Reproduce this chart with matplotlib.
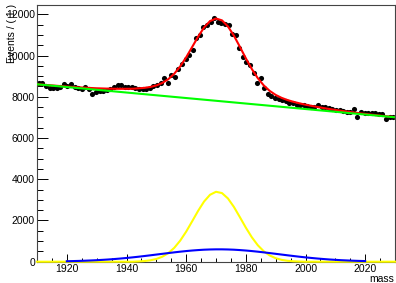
import matplotlib
matplotlib.use("Agg")
import matplotlib.pyplot as plt
from matplotlib.ticker import MultipleLocator

plt.rcParams['font.family'] = ['Liberation Sans', 'DejaVu Sans']

# binned data, 100 bins of width 1.2 from 1910 to 2030
bin_lo = 1910.0
bin_w = 1.2
counts = [8650, 8650, 8520, 8410, 8410, 8440, 8490, 8620, 8520, 8600,
          8490, 8410, 8370, 8490, 8370, 8120, 8230, 8290, 8280, 8325,
          8360, 8490, 8570, 8570, 8490, 8450, 8490, 8420, 8390, 8375,
          8380, 8410, 8510, 8570, 8680, 8890, 8680, 9055, 8970, 9330,
          9590, 9815, 10025, 10265, 10835, 10995, 11400, 11480, 11640, 11805,
          11640, 11560, 11525, 11480, 11045, 10995, 10350, 9940, 9700, 9540,
          9135, 8650, 8890, 8410, 8150, 8055, 7925, 7875, 7845, 7775,
          7715, 7680, 7605, 7595, 7595, 7555, 7515, 7515, 7600, 7515,
          7485, 7435, 7405, 7380, 7360, 7290, 7275, 7260, 7430, 7010,
          7270, 7210, 7200, 7190, 7190, 7160, 7140, 6910, 7040, 7020]
centers = [bin_lo + bin_w * (i + 0.5) for i in range(len(counts))]

curve_x = list(range(1910, 2031, 2))
total_y = [8611, 8586, 8562, 8539, 8516, 8495, 8475, 8456, 8440, 8425,
           8411, 8402, 8393, 8388, 8385, 8386, 8388, 8407, 8432, 8475,
           8548, 8668, 8851, 9115, 9473, 9912, 10410, 10914, 11359, 11670,
           11795, 11705, 11412, 10964, 10424, 9865, 9347, 8904, 8551, 8284,
           8089, 7946, 7838, 7753, 7681, 7614, 7559, 7505, 7454, 7406,
           7361, 7317, 7278, 7239, 7202, 7168, 7134, 7102, 7072, 7041,
           7012]

bkg_x = [1910, 2030]
bkg_y = [8605, 7004]

sig_x = [1910, 1942, 1944, 1946, 1948, 1950, 1952, 1954, 1956, 1958,
         1960, 1962, 1964, 1966, 1968, 1970, 1972, 1974, 1976, 1978,
         1980, 1982, 1984, 1986, 1988, 1990, 1992, 1994, 1996, 1998,
         2000, 2030]
sig_y = [0, 0, 15, 32, 67, 131, 241, 415, 671, 1022,
         1458, 1957, 2465, 2919, 3246, 3391, 3328, 3068, 2657, 2162,
         1652, 1187, 800, 507, 302, 169, 89, 44, 20, 9,
         0, 0]

wide_x = list(range(1920, 2021, 2))
wide_y = [23, 30, 38, 48, 60, 73, 90, 108, 130, 154,
          181, 210, 241, 275, 310, 346, 382, 418, 453, 486,
          516, 542, 564, 582, 593, 599, 599, 593, 582, 564,
          542, 516, 486, 453, 418, 382, 346, 310, 275, 241,
          210, 181, 154, 130, 108, 90, 73, 60, 48, 38,
          30]

fig = plt.figure(figsize=(3.96, 2.83), dpi=100)
ax = fig.add_axes([37 / 396, 21.3 / 283, 358 / 396, 256.7 / 283])

ax.plot(centers, counts, 'o', color='black', ms=3.7, mec='none', zorder=2)
ax.plot(curve_x, total_y, color='red', lw=1.5, zorder=3)
ax.plot(bkg_x, bkg_y, color='#00ff00', lw=1.5, zorder=3)
ax.plot(sig_x, sig_y, color='yellow', lw=1.5, zorder=4, clip_on=False)
ax.plot(wide_x, wide_y, color='blue', lw=1.5, zorder=4, clip_on=False)

ax.set_xlim(1910, 2030)
ax.set_ylim(0, 12450)

ax.xaxis.set_major_locator(MultipleLocator(20))
ax.xaxis.set_minor_locator(MultipleLocator(5))
ax.yaxis.set_major_locator(MultipleLocator(2000))
ax.yaxis.set_minor_locator(MultipleLocator(500))

ax.tick_params(axis='x', which='major', direction='in', length=5.8, width=0.7, labelsize=7.5, pad=2)
ax.tick_params(axis='x', which='minor', direction='in', length=2.9, width=0.7)
ax.tick_params(axis='y', which='major', direction='in', length=7.9, width=0.7, labelsize=7.5, pad=1.5)
ax.tick_params(axis='y', which='minor', direction='in', length=4, width=0.7)

for s in ax.spines.values():
    s.set_linewidth(0.8)
    s.set_color('#444444')

fig.text(12 / 396, 1 - 4 / 283, 'Events / ( 1 )', rotation=90, ha='center', va='top', fontsize=7.5)
fig.text(394 / 396, 1 - 279 / 283, 'mass', ha='right', va='center', fontsize=7.5)

fig.savefig('out.png', dpi=100)
